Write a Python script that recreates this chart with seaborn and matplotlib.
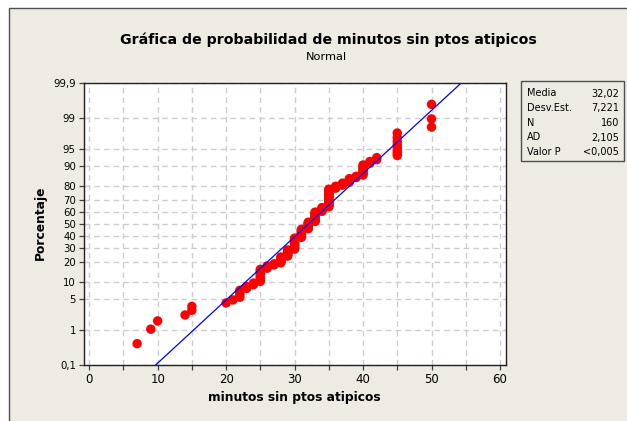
import numpy as np
import pandas as pd
import matplotlib
matplotlib.use("Agg")
import matplotlib.pyplot as plt
import seaborn as sns
from matplotlib.patches import Rectangle
from matplotlib.ticker import MultipleLocator, NullLocator, FixedLocator
from statistics import NormalDist

# ---------------- data ----------------
valores = [7, 9, 10, 14, 15, 20, 21, 22, 23, 24, 25, 26, 27, 28, 29, 30,
           31, 32, 33, 34, 35, 36, 37, 38, 39, 40, 41, 42, 45, 50]
frecuencias = [1, 1, 1, 1, 2, 1, 1, 4, 2, 2, 10, 3, 2, 7, 8, 15,
               12, 10, 14, 6, 22, 3, 3, 4, 2, 8, 2, 2, 8, 3]
media = 32.02
desv_est = 7.221
stats_labels = ["Media", "Desv.Est.", "N", "AD", "Valor P"]
stats_values = ["32,02", "7,221", "160", "2,105", "<0,005"]
y_ticks = [0.1, 1, 5, 10, 20, 30, 40, 50, 60, 70, 80, 90, 95, 99, 99.9]
y_ticklabels = ["0,1", "1", "5", "10", "20", "30", "40", "50", "60", "70",
                "80", "90", "95", "99", "99,9"]
x_ticks = [0, 10, 20, 30, 40, 50, 60]
titulo = "Gráfica de probabilidad de minutos sin ptos atipicos"
subtitulo = "Normal"
xlabel = "minutos sin ptos atipicos"
ylabel = "Porcentaje"

# ---------------- derived ----------------
datos = np.repeat(valores, frecuencias)
n = len(datos)
rangos = np.arange(1, n + 1)
pct = (rangos - 0.3) / (n + 0.4) * 100.0  # median ranks
df = pd.DataFrame({"x": np.sort(datos), "pct": pct})

nd = NormalDist()
_inv = np.vectorize(lambda v: nd.inv_cdf(v / 100.0), otypes=[float])
_cdf = np.vectorize(lambda v: nd.cdf(v) * 100.0, otypes=[float])

def fwd(p):
    p = np.clip(np.asarray(p, dtype=float), 1e-9, 100 - 1e-9)
    return _inv(p)

def inv(z):
    return _cdf(np.asarray(z, dtype=float))

p_line = np.array([0.1, 50, 99.9])
x_line = media + desv_est * fwd(p_line)
df_line = pd.DataFrame({"x": x_line, "pct": p_line})

# ---------------- style ----------------
sns.set_style("ticks")
plt.rcParams["font.family"] = ["DejaVu Sans"]
plt.rcParams["text.color"] = "black"
plt.rcParams["axes.labelcolor"] = "black"
plt.rcParams["xtick.labelcolor"] = "black"
plt.rcParams["ytick.labelcolor"] = "black"
beige = "#EFEBE2"

W, H = 627, 421
fig = plt.figure(figsize=(W / 100, H / 100), dpi=100, facecolor="white")
fig.add_artist(Rectangle((8.5 / W, -0.1), 1.2, 1.1 - 8.5 / H,
                         transform=fig.transFigure, facecolor=beige,
                         edgecolor="#505050", lw=1.0, zorder=-10))

ax_l, ax_r, ax_t, ax_b = 83.5, 506, 83, 365
ax = fig.add_axes([ax_l / W, 1 - ax_b / H, (ax_r - ax_l) / W, (ax_b - ax_t) / H])
ax.set_facecolor("white")
ax.set_yscale("function", functions=(fwd, inv))

sns.scatterplot(data=df, x="x", y="pct", color="#FF0000", s=46,
                edgecolor="none", linewidth=0, ax=ax, zorder=3, legend=False)
sns.lineplot(data=df_line, x="x", y="pct", color="#0000FF", lw=0.9,
             ax=ax, zorder=4, sort=True, estimator=None)

ax.set_xlim(-0.83, 60.88)
ax.set_ylim(0.1, 99.9)
ax.yaxis.set_major_locator(FixedLocator(y_ticks))
ax.set_yticklabels(y_ticklabels)
ax.yaxis.set_minor_locator(NullLocator())
ax.xaxis.set_major_locator(FixedLocator(x_ticks))
ax.xaxis.set_minor_locator(MultipleLocator(5))

grid_kw = dict(color="#CDCDCD", lw=1.0, linestyle=(0, (4, 3)))
ax.grid(True, which="major", axis="y", **grid_kw)
ax.grid(True, which="both", axis="x", **grid_kw)
ax.set_axisbelow(True)

for s in ax.spines.values():
    s.set_color("#202020")
    s.set_linewidth(1.0)
ax.tick_params(axis="x", which="major", labelsize=8.5, length=3.5, width=0.9,
               color="#404040", labelcolor="black", pad=2)
ax.tick_params(axis="x", which="minor", length=3.5, width=0.9, color="#404040")
ax.tick_params(axis="y", which="major", labelsize=7.3, length=3.5, width=0.9,
               color="#404040", labelcolor="black", pad=2)

ax.set_xlabel(xlabel, fontsize=8.8, fontweight="bold", labelpad=4, color="black")
ax.set_ylabel("")
fig.text(40 / W, 1 - 223 / H, ylabel, rotation=90, ha="center", va="center",
         fontsize=8.8, fontweight="bold", color="black")

fig.text(328 / W, 1 - 40 / H, titulo, ha="center", va="center",
         fontsize=10.2, fontweight="bold", color="black")
fig.text(326 / W, 1 - 57 / H, subtitulo, ha="center", va="center",
         fontsize=8.2, color="black")

# stats box
bx0, by0, bx1, by1 = 521, 81, 624, 160.5
fig.add_artist(Rectangle((bx0 / W, 1 - by1 / H), (bx1 - bx0) / W, (by1 - by0) / H,
                         transform=fig.transFigure, facecolor=beige,
                         edgecolor="#505050", lw=1.0))
row_y = [93.5, 108, 122.5, 137.5, 152]
for lab, val, yy in zip(stats_labels, stats_values, row_y):
    fig.text(527 / W, 1 - yy / H, lab, ha="left", va="center", fontsize=7.0,
             color="black")
    fig.text(619 / W, 1 - yy / H, val, ha="right", va="center", fontsize=7.0,
             color="black")

fig.savefig("out.png", dpi=100, facecolor=fig.get_facecolor())
